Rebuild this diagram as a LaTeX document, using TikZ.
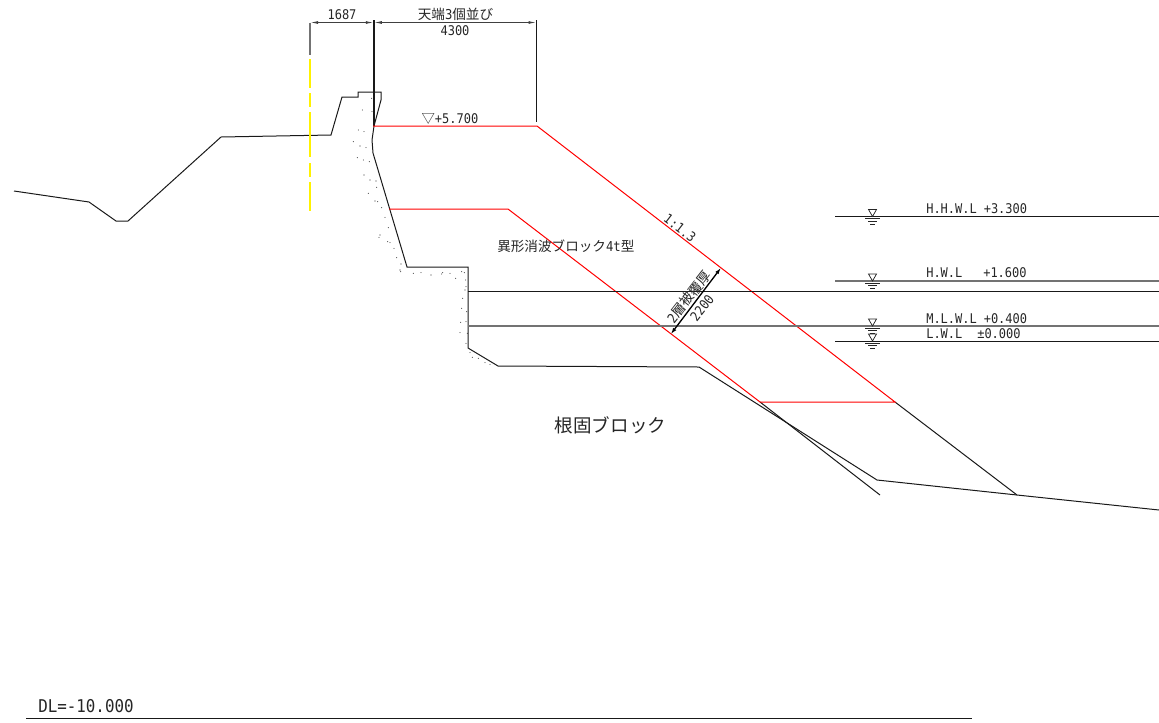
\documentclass[tikz,border=0pt]{standalone}
\usepackage{fontspec}
\usetikzlibrary{arrows.meta}
\setmainfont{Noto Sans CJK JP}
\newfontfamily\hw[FakeStretch=0.9]{DejaVu Sans Mono}
\tikzset{
  x=0.75pt,y=-0.75pt,
  ln/.style={draw=black!90,line width=0.75pt,line join=miter},
  redl/.style={draw=red,line width=0.75pt},
  grayl/.style={draw=black!55,line width=1pt},
  yel/.style={draw=yellow,line width=0.9pt},
  txt/.style={inner sep=0pt,font=\fontsize{10}{10}\selectfont,text=black!85},
  sym/.style={draw=black!85,line width=0.55pt},
  dimt/.style={{Latex[length=6pt,width=2.2pt]}-{Latex[length=6pt,width=2.2pt]}}
}
\begin{document}
\begin{tikzpicture}
\useasboundingbox (0,0) rectangle (1159,722);
% ground and wall
\draw[ln] (14,191) -- (89,202) -- (116,221) -- (128,221) -- (221,137) -- (331,135) -- (342,97) -- (358,97) -- (358,92) -- (381,92) -- (381,100) -- (374,126) -- (372,140) -- (373,153) -- (407,267) -- (468,267) -- (468,348) -- (498,366) -- (699,367) -- (877,480) -- (1017,495) -- (1159,510);
\draw[ln] (760,402) -- (880,495);
\draw[ln] (895,402) -- (1017,495);
\draw[draw=black!90,line width=1.05pt] (373.8,20) -- (373.8,126);
% red armour outline
\draw[redl] (373,126) -- (537,126) -- (895,402) -- (760,402) -- (508,209) -- (389,209);
% water levels
\draw[ln] (835,216.5) -- (1159,216.5);
\draw[grayl] (835,281) -- (1159,281);
\draw[ln] (468,291.5) -- (1159,291.5);
\draw[grayl] (468,326) -- (1159,326);
\draw[ln] (835,341) -- (1159,341);
% level symbols
\foreach \n/\yy in {a/216.5,b/281,c/326,d/341}{
 \coordinate (\n) at (872.5,\yy);
 \draw[sym] ([shift={(-4,-7)}]\n) -- ([shift={(4,-7)}]\n) -- (\n) -- cycle;
 \draw[sym] ([shift={(-7.5,2)}]\n) -- ([shift={(7.5,2)}]\n);
 \draw[sym] ([shift={(-4.5,4.5)}]\n) -- ([shift={(4.5,4.5)}]\n);
 \draw[sym] ([shift={(-2.2,7.5)}]\n) -- ([shift={(2.2,7.5)}]\n);
}
% dimensions
\draw[grayl] (310,22.5) -- (310,55);
\draw[ln] (536.5,20) -- (536.5,122);
\draw[draw=black!75,line width=0.75pt,dimt] (310,22.5) -- (373.8,22.5);
\draw[draw=black!75,line width=0.75pt,dimt] (373.8,22.5) -- (536.5,22.5);
\draw[draw=black,line width=1pt,{Latex[length=5pt,width=3pt]}-{Latex[length=5pt,width=3pt]}] (670.7,334.3) -- (721,267.7);
% yellow centre line
\draw[yel] (310,59) -- (310,88) (310,93) -- (310,107) (310,112) -- (310,157) (310,163) -- (310,177) (310,182) -- (310,211);
% gravel dots
\foreach \x/\y in {55/30,72/35,40/65,60/78,78/83,52/113,70/120,88/125,72/165,90/180,108/183,110/202,85/220,105/243,113/245,125/263,135/292,145/323,120/345,117/352,143/365,150/368,162/385,170/413,183/432,180/450,182/455,220/460,243/458,273/465,305/462,308/458,330/460,347/475,365/455,373/458,377/480,378/500,375/510,368/535,365/565,380/575,362/607,378/605,382/640,360/638,378/670,390/698,397/712,415/715,435/728,450/733}{
 \fill[black!80] ({\x/3+340},{\y/3+120}) circle (0.55);
}
\foreach \x/\y in {305/145,277/180,306/185}{
 \fill[black!80] ({\x/3+270},{\y/3+50}) circle (0.55);
}
% text
\node[txt] (t1) at (342,15) {\hw 1687};
\node[txt,font=\fontsize{10.2}{10.2}\selectfont] (t2) at (455.5,14.5) {天端{\hw 3}個並び};
\node[txt] (t3) at (455,30.5) {\hw 4300};
\node[txt] (t4) at (450,119) {▽{\hw +5.700}};
\node[txt,rotate=-37.5] (t5) at (680,228) {\hw 1:1.3};
\node[txt,font=\fontsize{10.2}{10.2}\selectfont,anchor=west] (t6) at (497,246) {異形消波ブロック{\hw 4t}型};
\node[txt,font=\fontsize{10.2}{10.2}\selectfont,rotate=52] (t7) at (689,297) {{\hw 2}層被覆厚};
\node[txt,rotate=52] (t8) at (702,308) {\hw 2200};
\node[txt,font=\fontsize{13.9}{13.9}\selectfont] (t9) at (610.5,425) {根固ブロック};
\node[txt,anchor=west] (w1) at (926,208.5) {\hw H.H.W.L};
\node[txt,anchor=west] (w1v) at (983.5,208.5) {\hw +3.300};
\node[txt,anchor=west] (w2) at (926,272.5) {\hw H.W.L};
\node[txt,anchor=west] (w2v) at (983,272.5) {\hw +1.600};
\node[txt,anchor=west] (w3) at (926,318.5) {\hw M.L.W.L};
\node[txt,anchor=west] (w3v) at (983.5,318.5) {\hw +0.400};
\node[txt,anchor=west] (w4) at (926,333.5) {\hw L.W.L};
\node[txt,anchor=west] (w4v) at (977,333.5) {\hw ±0.000};
\node[txt,anchor=west,font=\fontsize{13.2}{13.2}\selectfont] (dl) at (38,706) {\hw DL=-10.000};
\draw[ln] (26,718.5) -- (972,718.5);
\end{tikzpicture}
\end{document}
